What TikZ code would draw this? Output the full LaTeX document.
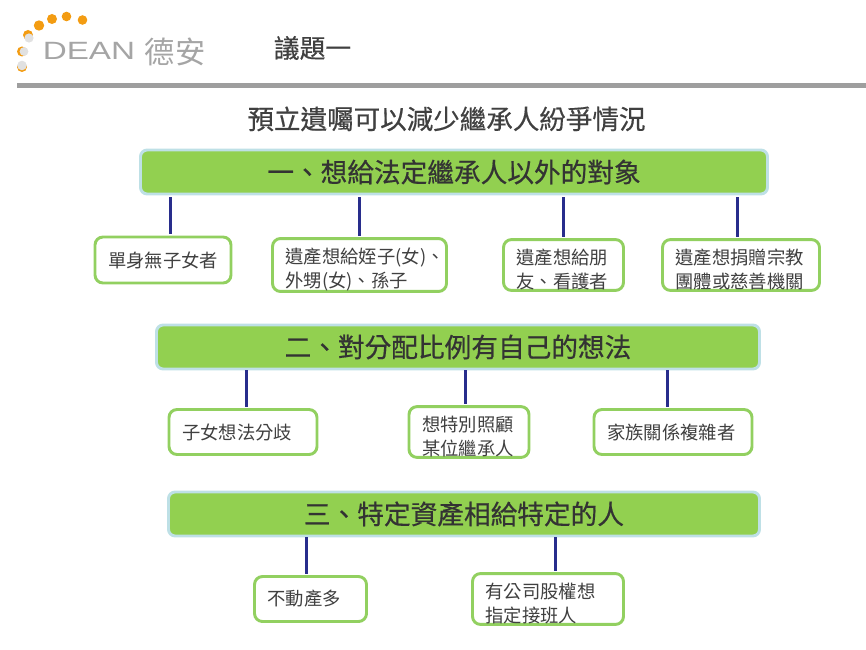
\documentclass[tikz,border=0pt]{standalone}
\usepackage{fontspec}
\setmainfont{Noto Sans CJK TC}
\newfontfamily\headfont[FakeBold=0.5]{Noto Sans CJK TC}
\newfontfamily\latinlogo{Liberation Sans}
\definecolor{hgreen}{RGB}{146,208,80}
\definecolor{hedge}{RGB}{190,224,230}
\definecolor{bgreen}{RGB}{146,208,96}
\definecolor{conncol}{RGB}{40,45,140}
\definecolor{txt}{RGB}{64,64,64}
\definecolor{orng}{RGB}{243,156,18}
\definecolor{lgrey}{RGB}{225,225,225}
\definecolor{logot}{RGB}{165,165,165}
\tikzset{
  header/.style={draw=hedge,fill=hgreen,line width=2.2pt,rounded corners=5pt,inner sep=0pt,text=black!80,font=\fontsize{20pt}{22pt}\headfont},
  leaf/.style={draw=bgreen,fill=white,line width=2.2pt,rounded corners=6pt,inner ysep=0pt,inner xsep=9.75pt,text=txt,align=left,font=\fontsize{13.75pt}{18pt}\selectfont},
  conn/.style={draw=conncol,line width=2.5pt,shorten >=1pt},
  gapconn/.style={conn,shorten <=1.5pt},
}
\newcommand{\hdr}[6]{\node[header,minimum width=#3*.75pt,minimum height=#4*.75pt] (#5) at (#1,#2) {\raisebox{-1.5pt}{#6}};}
\newcommand{\lf}[6]{\node[leaf,text width=#3*.75pt-19.5pt,minimum height=#4*.75pt] (#5) at (#1,#2) {#6};}
\newcommand{\firstline}{\rule{0pt}{19pt}}
\begin{document}
\begin{tikzpicture}[x=0.75pt,y=-0.75pt]
\useasboundingbox (0,0) rectangle (866,649);
% logo
\fill[orng] (39,25.5) circle (5.2);
\fill[orng] (52,19) circle (5);
\fill[orng] (66.5,16.5) circle (4.8);
\fill[orng] (82.5,20) circle (4.8);
\fill[orng] (28,35) circle (5);
\fill[lgrey] (29,38) circle (4.6);
\fill[orng] (22,51.5) circle (5);
\fill[lgrey] (24,51.5) circle (4.4);
\fill[orng] (22,67) circle (5);
\fill[lgrey] (22,65.5) circle (4.8);
\node[text=logot,inner sep=0pt,xscale=1.33,font=\latinlogo\fontsize{18.75pt}{22pt}\selectfont] (logoa) at (89,51) {DEAN};
\node[text=logot,inner sep=0pt,font=\fontsize{22.7pt}{24pt}\selectfont] (logob) at (175,52) {德安};
\node[text=black!75,inner sep=0pt,font=\fontsize{19.3pt}{22pt}\headfont] (topic) at (312.5,48) {議題一};
\fill[black!38] (17,83) rectangle (866,88.5);
\node[text=black!75,inner sep=0pt,font=\fontsize{19.9pt}{22pt}\headfont] (title) at (446.5,119) {預立遺囑可以減少繼承人紛爭情況};
% section 1
\hdr{454}{172}{627}{44}{h1}{一、想給法定繼承人以外的對象}
\lf{163}{260}{136}{46}{a1}{單身無子女者}
\lf{359.5}{265}{174}{45}{a2}{\firstline 遺產想給姪子(女)、\\外甥(女)、孫子}
\lf{563.5}{265}{120}{45}{a3}{\firstline 遺產想給朋\\友、看護者}
\lf{741}{265}{157}{45}{a4}{\firstline 遺產想捐贈宗教\\團體或慈善機關}
\coordinate (ca1) at (170.7,0);
\coordinate (ca2) at (359.5,0);
\coordinate (ca3) at (563.5,0);
\coordinate (ca4) at (737.5,0);
\draw[gapconn] (h1.south -| ca1) -- (a1.north -| ca1);
\draw[gapconn] (h1.south -| ca2) -- (a2.north -| ca2);
\draw[gapconn] (h1.south -| ca3) -- (a3.north -| ca3);
\draw[gapconn] (h1.south -| ca4) -- (a4.north -| ca4);
% section 2
\hdr{458}{347}{603}{44}{h2}{二、對分配比例有自己的想法}
\lf{243}{432}{148}{45}{b1}{子女想法分歧}
\lf{469}{432}{120}{45}{b2}{\firstline 想特別照顧\\某位繼承人}
\lf{673}{432}{158}{45}{b3}{家族關係複雜者}
\coordinate (cb1) at (246.5,0);
\coordinate (cb2) at (465.5,0);
\coordinate (cb3) at (667.5,0);
\draw[conn] (h2.south -| cb1) -- (b1.north -| cb1);
\draw[conn] (h2.south -| cb2) -- (b2.north -| cb2);
\draw[conn] (h2.south -| cb3) -- (b3.north -| cb3);
% section 3
\hdr{464}{514}{591}{44}{h3}{三、特定資產相給特定的人}
\lf{310.5}{599}{112}{45}{c1}{不動產多}
\lf{548}{599}{151}{45}{c2}{\firstline 有公司股權想\\指定接班人}
\coordinate (cc1) at (306.5,0);
\coordinate (cc2) at (555.5,0);
\draw[conn] (h3.south -| cc1) -- (c1.north -| cc1);
\draw[conn] (h3.south -| cc2) -- (c2.north -| cc2);
\end{tikzpicture}
\end{document}
